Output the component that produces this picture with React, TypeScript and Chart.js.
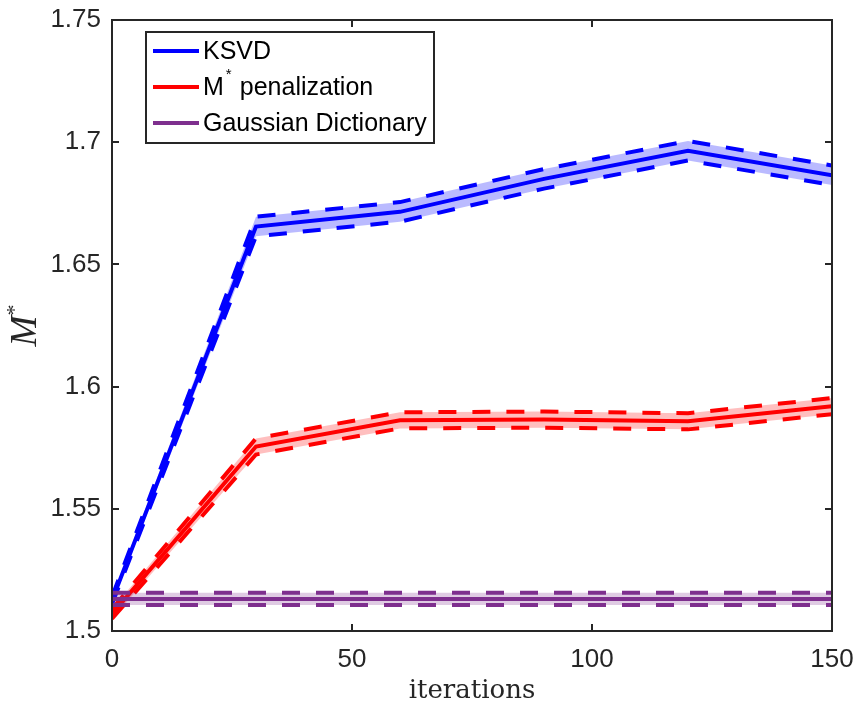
import React, { useEffect, useRef } from "react";
import { Chart, registerables } from "chart.js";

Chart.register(...registerables);

const iterations = [0, 30, 60, 90, 120, 150];
const ksvdMean = [1.5125, 1.6655, 1.6715, 1.685, 1.6965, 1.6865];
const ksvdStd = [0.0015, 0.004, 0.004, 0.004, 0.004, 0.004];
const mstarMean = [1.507, 1.5755, 1.5862, 1.5865, 1.5858, 1.592];
const mstarStd = [0.002, 0.0033, 0.0033, 0.0033, 0.0033, 0.0033];
const gaussMean = [1.5131, 1.5131, 1.5131, 1.5131, 1.5131, 1.5131];
const gaussStd = [0.0025, 0.0025, 0.0025, 0.0025, 0.0025, 0.0025];
const xTicks = [0, 50, 100, 150];
const yTicks = [1.5, 1.55, 1.6, 1.65, 1.7, 1.75];
const seriesNames = ["KSVD", "M* penalization", "Gaussian Dictionary"];

const AXIS = "#262626";
const SANS = "'Liberation Sans', Arial, Helvetica, sans-serif";
const LEGEND_FONT = "25px " + SANS;

function pts(mean: number[], off: number[], sign: number) {
  return iterations.map((x, i) => ({ x, y: mean[i] + sign * off[i] }));
}

function group(mean: number[], std: number[], color: string, band: string, baseOrder: number) {
  return [
    {
      data: pts(mean, std, 1),
      borderColor: color,
      borderWidth: 4,
      borderDash: [18, 16],
      backgroundColor: band,
      fill: "+1",
      pointRadius: 0,
      order: baseOrder + 1,
    },
    {
      data: pts(mean, std, -1),
      borderColor: color,
      borderWidth: 4,
      borderDash: [18, 16],
      fill: false,
      pointRadius: 0,
      order: baseOrder + 1,
    },
    {
      data: pts(mean, std, 0),
      borderColor: color,
      borderWidth: 4,
      fill: false,
      pointRadius: 0,
      order: baseOrder,
    },
  ];
}

const decorPlugin = {
  id: "decor",
  afterDraw(chart: any) {
    const ctx = chart.ctx;
    const a = chart.chartArea;
    const xs = chart.scales.x;
    const ys = chart.scales.y;
    ctx.save();
    ctx.strokeStyle = AXIS;
    ctx.lineWidth = 2;
    ctx.strokeRect(a.left, a.top, a.right - a.left, a.bottom - a.top);
    ctx.beginPath();
    const tl = 7;
    xTicks.forEach((v) => {
      const px = Math.round(xs.getPixelForValue(v));
      ctx.moveTo(px, a.bottom);
      ctx.lineTo(px, a.bottom - tl);
      ctx.moveTo(px, a.top);
      ctx.lineTo(px, a.top + tl);
    });
    yTicks.forEach((v) => {
      const py = Math.round(ys.getPixelForValue(v));
      ctx.moveTo(a.left, py);
      ctx.lineTo(a.left + tl, py);
      ctx.moveTo(a.right, py);
      ctx.lineTo(a.right - tl, py);
    });
    ctx.stroke();

    // x title
    ctx.fillStyle = AXIS;
    ctx.font = "26px 'DejaVu Serif', 'Liberation Serif', serif";
    ctx.textAlign = "center";
    ctx.textBaseline = "alphabetic";
    ctx.fillText("iterations", (a.left + a.right) / 2, 698);

    // y title: M^*
    ctx.save();
    const cy = (a.top + a.bottom) / 2;
    ctx.translate(36, cy);
    ctx.rotate(-Math.PI / 2);
    ctx.font = "italic 37px 'Liberation Serif', serif";
    const wM = ctx.measureText("M").width;
    ctx.font = "22px 'Liberation Serif', serif";
    const wS = ctx.measureText("*").width;
    const start = -(wM + wS) / 2;
    ctx.textAlign = "left";
    ctx.font = "italic 37px 'Liberation Serif', serif";
    ctx.fillText("M", start, 0);
    ctx.font = "22px 'Liberation Serif', serif";
    ctx.fillText("*", start + wM, -15);
    ctx.restore();

    // legend
    const bx = a.left + 34;
    const by = a.top + 12;
    const bw = 288;
    const bh = 111;
    ctx.fillStyle = "#ffffff";
    ctx.fillRect(bx, by, bw, bh);
    ctx.strokeStyle = AXIS;
    ctx.lineWidth = 2;
    ctx.strokeRect(bx, by, bw, bh);
    const colors = ["#0000ff", "#ff0000", "#7e2f8e"];
    seriesNames.forEach((name, i) => {
      const ly = by + 19 + i * 36;
      ctx.strokeStyle = colors[i];
      ctx.lineWidth = 4;
      ctx.beginPath();
      ctx.moveTo(bx + 7, ly);
      ctx.lineTo(bx + 53, ly);
      ctx.stroke();
      ctx.fillStyle = "#000000";
      ctx.textAlign = "left";
      ctx.textBaseline = "middle";
      ctx.font = LEGEND_FONT;
      const tx = bx + 57;
      if (name.startsWith("M*")) {
        ctx.fillText("M", tx, ly + 1);
        const w = ctx.measureText("M").width;
        ctx.font = "15px " + SANS;
        ctx.fillText("*", tx + w + 2, ly - 12);
        ctx.font = LEGEND_FONT;
        ctx.fillText(name.slice(2), tx + w + 9, ly + 1);
      } else {
        ctx.fillText(name, tx, ly + 1);
      }
    });
    ctx.restore();
  },
};

export default function App() {
  const ref = useRef<HTMLCanvasElement | null>(null);
  useEffect(() => {
    if (!ref.current) return;
    const chart = new Chart(ref.current, {
      type: "line",
      data: {
        datasets: [
          ...group(gaussMean, gaussStd, "#7e2f8e", "rgba(126,47,142,0.25)", 1),
          ...group(mstarMean, mstarStd, "#ff0000", "rgba(255,0,0,0.25)", 4),
          ...group(ksvdMean, ksvdStd, "#0000ff", "rgba(0,0,255,0.27)", 7),
        ] as any,
      },
      options: {
        responsive: false,
        maintainAspectRatio: false,
        devicePixelRatio: 1,
        animation: false,
        layout: { padding: { left: 0, top: 20, right: 27, bottom: 0 } },
        plugins: { legend: { display: false }, tooltip: { enabled: false } },
        elements: { line: { tension: 0, borderCapStyle: "butt", borderJoinStyle: "miter" } },
        scales: {
          x: {
            type: "linear",
            min: 0,
            max: 150,
            afterBuildTicks: (s: any) => {
              s.ticks = xTicks.map((v) => ({ value: v }));
            },
            afterFit: (s: any) => {
              s.height = 74;
              s.paddingLeft = 0;
              s.paddingRight = 0;
            },
            grid: { display: false, drawTicks: false },
            border: { display: false },
            ticks: { color: AXIS, font: { family: SANS, size: 26 }, padding: 13 },
          },
          y: {
            type: "linear",
            min: 1.5,
            max: 1.75,
            afterBuildTicks: (s: any) => {
              s.ticks = yTicks.map((v) => ({ value: v }));
            },
            afterFit: (s: any) => {
              s.width = 112;
              s.paddingTop = 0;
              s.paddingBottom = 0;
            },
            grid: { display: false, drawTicks: false },
            border: { display: false },
            ticks: {
              color: AXIS,
              font: { family: SANS, size: 26 },
              padding: 11,
              callback: (v: any) => String(Number(Number(v).toFixed(2))),
            },
          },
        },
      },
      plugins: [decorPlugin],
    });
    return () => chart.destroy();
  }, []);
  return (
    <div style={{ position: "fixed", left: 0, top: 0, width: 859, height: 705, background: "#fff" }}>
      <canvas ref={ref} width={859} height={705} style={{ width: 859, height: 705, display: "block" }} />
    </div>
  );
}
